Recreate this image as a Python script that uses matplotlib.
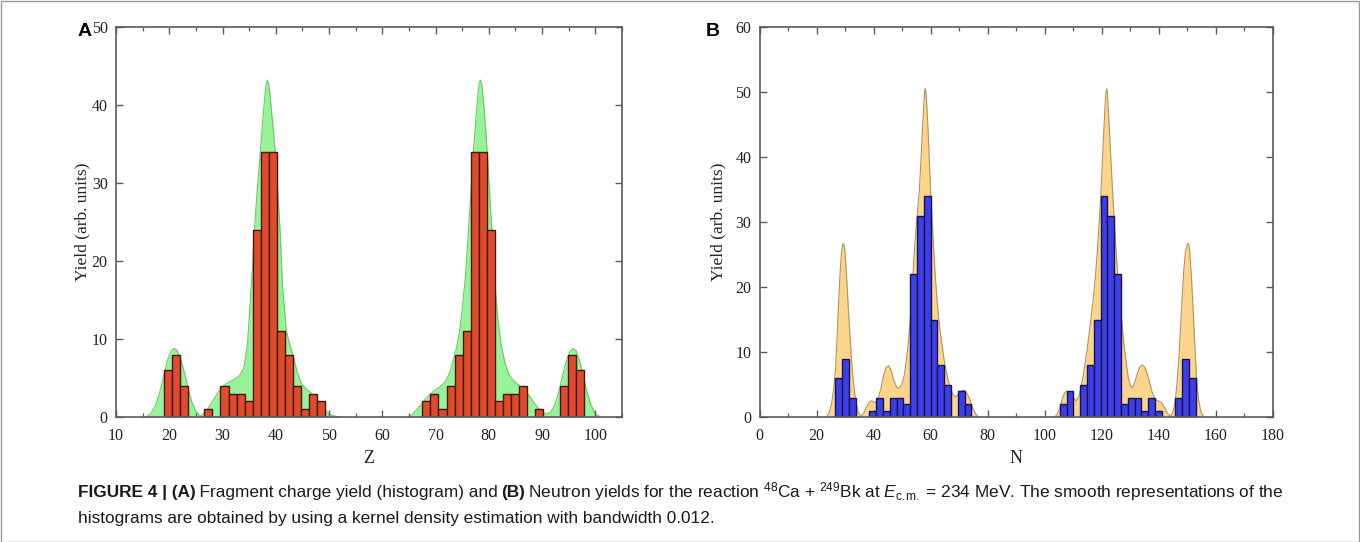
import matplotlib
matplotlib.use("Agg")
import matplotlib.pyplot as plt
from matplotlib.patches import Rectangle

# ---------------- data ----------------
# Panel A: fragment charge yield histogram
z_bin_start = 19.0
z_bin_width = 1.516
z_counts = [6, 8, 4, 0, 0, 1, 0, 4, 3, 3, 2, 24, 34, 34, 11, 8, 4, 1, 3, 2,
            0, 0, 0, 0, 0, 0, 0, 0, 0, 0, 0, 0,
            2, 3, 1, 4, 8, 11, 34, 34, 24, 2, 3, 3, 4, 0, 1, 0, 0, 4, 8, 6]

# Panel A: smooth (KDE) curve
z_kde_left_x = [15.5, 16.5, 17.5, 18.3, 19.0, 19.7, 20.4, 20.9, 21.5, 22.1, 22.8, 23.5,
                24.2, 25.0, 25.8, 26.6, 27.4, 28.3, 29.2, 30.2, 31.2, 32.2, 33.2, 34.0,
                34.7, 35.3, 35.7, 36.0, 36.5, 37.1, 37.6, 38.0, 38.2, 38.4, 38.6, 38.8,
                39.3, 39.9, 40.4, 40.8, 41.3, 42.0, 42.6, 43.2, 44.0, 44.8, 45.7, 46.6,
                47.5, 48.3, 49.0, 49.8, 50.6, 51.5, 52.3]
z_kde_left_y = [0, 0.4, 1.6, 3.4, 5.4, 7.4, 8.5, 8.8, 8.5, 7.5, 5.8, 3.8,
                2.0, 0.7, 0.1, 0.5, 1.2, 2.2, 3.2, 4.0, 4.5, 4.8, 5.3, 6.3,
                9.5, 15.8, 20.0, 24.0, 29.0, 34.0, 38.5, 41.5, 42.7, 43.2, 42.9, 42.0,
                38.5, 34.0, 28.5, 24.0, 16.5, 11.0, 9.3, 8.0, 5.8, 4.3, 3.6, 3.1,
                2.5, 1.8, 1.1, 0.5, 0.2, 0.05, 0]
z_kde_right_x = [64.8, 65.6, 66.4, 67.3, 68.2, 69.1, 70.0, 70.9, 71.8, 72.6, 73.3, 73.9,
                 74.5, 75.1, 75.6, 76.1, 76.6, 77.1, 77.6, 78.0, 78.2, 78.4, 78.6, 78.8,
                 79.2, 79.7, 80.2, 80.7, 81.2, 81.7, 82.3, 83.0, 83.8, 84.7, 85.6, 86.5,
                 87.4, 88.3, 89.2, 90.0, 90.8, 91.6, 92.4, 93.2, 93.9, 94.6, 95.2, 95.8,
                 96.4, 97.0, 97.7, 98.4, 99.2, 100.0, 100.9]
z_kde_right_y = [0, 0.3, 0.9, 1.6, 2.4, 3.0, 3.5, 3.9, 4.5, 5.6, 7.2, 8.8,
                 11.0, 14.5, 18.0, 23.0, 28.5, 34.0, 38.5, 41.8, 42.8, 43.2, 42.9, 42.0,
                 38.8, 34.0, 28.0, 22.5, 16.5, 12.5, 9.3, 7.0, 5.4, 4.6, 4.1, 3.5,
                 2.9, 2.0, 1.2, 0.6, 0.4, 0.6, 1.6, 3.4, 5.5, 7.3, 8.4, 8.8,
                 8.5, 7.3, 5.3, 3.3, 1.5, 0.4, 0]

# Panel B: neutron yield histogram
n_bin_start = 26.5
n_bin_width = 2.386
n_counts = [6, 9, 3, 0, 0, 1, 3, 1, 3, 3, 2, 22, 31, 34, 15, 8, 5, 0, 4, 2,
            0, 0, 0, 0, 0, 0, 0, 0, 0, 0, 0, 0, 0,
            2, 4, 0, 5, 8, 15, 34, 31, 22, 2, 3, 3, 1, 3, 1, 0, 0, 3, 9, 6]

# Panel B: smooth (KDE) curve
n_kde_left_x = [23.3, 24.3, 25.2, 26.0, 26.6, 27.1, 27.6, 28.1, 28.7, 29.0, 29.3, 29.6,
                29.9, 30.5, 31.1, 31.8, 32.5, 33.2, 33.9, 34.6, 35.5, 36.4, 37.3, 38.3,
                39.2, 40.0, 40.8, 41.6, 42.5, 43.4, 44.3, 45.2, 46.1, 47.0, 48.0, 48.9,
                49.8, 50.6, 51.3, 52.0, 52.7, 53.4, 54.1, 54.8, 55.4, 56.0, 56.6, 57.1,
                57.6, 57.8, 58.0, 58.2, 58.4, 58.9, 59.4, 59.9, 60.4, 61.0, 61.6, 62.3,
                63.0, 63.8, 64.6, 65.4, 66.2, 67.0, 67.8, 68.6, 69.4, 70.2, 71.0, 71.8,
                72.6, 73.4, 74.2, 75.0, 75.8, 76.8]
n_kde_left_y = [0, 0.5, 2.1, 4.5, 7.5, 12.0, 17.0, 21.5, 25.5, 26.4, 26.7, 26.4,
                25.5, 21.5, 16.5, 11.5, 7.0, 4.0, 2.0, 0.7, 0.15, 0.5, 1.4, 2.2,
                2.5, 2.3, 2.2, 3.0, 4.4, 6.3, 7.6, 7.9, 7.2, 5.7, 4.6, 4.4,
                5.0, 6.2, 8.3, 11.0, 14.5, 19.5, 24.5, 29.0, 32.0, 35.0, 40.0, 44.5,
                48.5, 50.0, 50.5, 50.2, 49.3, 45.5, 40.5, 35.0, 31.0, 26.0, 21.5, 17.3,
                14.2, 11.5, 9.0, 7.0, 5.5, 4.2, 3.4, 3.1, 3.4, 3.9, 4.1, 4.1,
                3.7, 3.0, 2.0, 1.1, 0.4, 0]
n_kde_right_x = [103.4, 104.3, 105.2, 106.0, 106.8, 107.6, 108.4, 109.2, 110.1, 111.0, 111.9, 112.7,
                 113.4, 114.1, 114.8, 115.5, 116.2, 117.0, 117.7, 118.4, 119.0, 119.6, 120.1, 120.6,
                 121.2, 121.45, 121.7, 121.9, 122.1, 122.6, 123.1, 123.7, 124.3, 124.9, 125.6, 126.3,
                 127.0, 127.7, 128.4, 129.2, 130.0, 130.7, 131.5, 132.3, 133.2, 134.1, 135.0, 135.9,
                 136.8, 137.7, 138.6, 139.5, 140.3, 141.1, 141.9, 142.7, 143.5, 144.2, 145.0, 145.7,
                 146.3, 146.9, 147.5, 148.1, 148.7, 149.3, 149.9, 150.2, 150.5, 150.8, 151.4, 152.0,
                 152.6, 153.2, 153.8, 154.5, 155.2, 156.0]
n_kde_right_y = [0, 0.4, 1.3, 2.6, 3.6, 4.0, 3.9, 3.4, 2.8, 2.5, 3.2, 4.6,
                 6.3, 8.3, 10.3, 12.8, 15.3, 18.3, 21.5, 25.5, 29.5, 34.0, 38.5, 43.5,
                 48.5, 50.0, 50.5, 50.1, 48.5, 44.5, 40.0, 35.0, 30.5, 26.0, 21.5, 18.0,
                 14.5, 11.3, 8.8, 6.2, 4.8, 4.5, 5.3, 6.5, 7.6, 8.0, 7.7, 6.6,
                 5.2, 3.7, 2.8, 2.5, 2.4, 2.1, 1.5, 0.8, 0.3, 0.15, 0.9, 2.5,
                 5.0, 8.5, 13.0, 18.0, 22.5, 25.5, 26.5, 26.7, 26.4, 25.5, 21.5, 16.5,
                 11.0, 6.0, 3.0, 1.2, 0.3, 0]

z_xticks = [10, 20, 30, 40, 50, 60, 70, 80, 90, 100]
z_yticks = [0, 10, 20, 30, 40, 50]
n_xticks = [0, 20, 40, 60, 80, 100, 120, 140, 160, 180]
n_yticks = [0, 10, 20, 30, 40, 50, 60]

# ---------------- styling ----------------
SERIF = ["Liberation Serif", "DejaVu Serif"]
SANS = ["Liberation Sans", "DejaVu Sans"]
CAP = ["Liberation Sans Narrow", "Liberation Sans", "DejaVu Sans"]
plt.rcParams["mathtext.fontset"] = "custom"
plt.rcParams["mathtext.rm"] = "Liberation Sans"
plt.rcParams["mathtext.it"] = "Liberation Sans:italic"
plt.rcParams["mathtext.bf"] = "Liberation Sans:bold"

W, H = 1360, 542
fig = plt.figure(figsize=(W / 100, H / 100), dpi=100)


def px_axes(left, top, right, bottom):
    return fig.add_axes([left / W, 1 - bottom / H, (right - left) / W, (bottom - top) / H])


def style_axes(ax, xlim, ylim, xticks, yticks, xminor, xlabel, ylab_x):
    ax.set_xlim(*xlim)
    ax.set_ylim(*ylim)
    ax.set_xticks(xticks)
    ax.set_yticks(yticks)
    ax.set_xticks(xminor, minor=True)
    for s in ax.spines.values():
        s.set_color("#5a5a5a")
        s.set_linewidth(1.2)
    ax.tick_params(axis="both", which="major", direction="in", top=True, right=True,
                   length=5, width=1.0, color="#5a5a5a", labelsize=11.5, labelcolor="#222222")
    ax.tick_params(axis="x", which="minor", direction="in", top=True, bottom=True,
                   length=3, width=0.9, color="#5a5a5a")
    ax.tick_params(axis="x", which="major", pad=8)
    ax.tick_params(axis="y", which="major", pad=6)
    for lab in ax.get_xticklabels() + ax.get_yticklabels():
        lab.set_family(SERIF)
    ax.set_xlabel(xlabel, family=SERIF, fontsize=13, color="#222222", labelpad=4)
    ax.set_ylabel("Yield (arb. units)", family=SERIF, fontsize=12.5, color="#222222")
    ax.yaxis.set_label_coords(ylab_x, 0.5)


# ---- Panel A ----
axA = px_axes(116, 27, 622, 417)
for kx, ky in ((z_kde_left_x, z_kde_left_y), (z_kde_right_x, z_kde_right_y)):
    axA.fill_between(kx, 0, ky, color="#98F298", lw=0, zorder=1)
    axA.plot(kx, ky, color="#6CC76C", lw=0.8, zorder=1.5)
z_edges = [z_bin_start + i * z_bin_width for i in range(len(z_counts))]
z_sel = [(x, c) for x, c in zip(z_edges, z_counts) if c > 0]
axA.bar([x for x, _ in z_sel], [c for _, c in z_sel], width=z_bin_width, align="edge",
        color="#E24A2C", edgecolor="#3A1A12", linewidth=1.0, zorder=2)
style_axes(axA, (10, 105), (0, 50), z_xticks, z_yticks, list(range(15, 106, 10)), "Z",
           (90 - 116) / 506)

# ---- Panel B ----
axB = px_axes(759.7, 27, 1273, 417)
for kx, ky in ((n_kde_left_x, n_kde_left_y), (n_kde_right_x, n_kde_right_y)):
    axB.fill_between(kx, 0, ky, color="#FDD48C", lw=0, zorder=1)
    axB.plot(kx, ky, color="#B09560", lw=0.8, zorder=1.5)
n_edges = [n_bin_start + i * n_bin_width for i in range(len(n_counts))]
n_sel = [(x, c) for x, c in zip(n_edges, n_counts) if c > 0]
axB.bar([x for x, _ in n_sel], [c for _, c in n_sel], width=n_bin_width, align="edge",
        color="#3D3DEA", edgecolor="#15154A", linewidth=1.0, zorder=2)
style_axes(axB, (0, 180), (0, 60), n_xticks, n_yticks, list(range(10, 180, 20)), "N",
           (726 - 759.7) / 513.3)

# panel letters
fig.text(78 / W, 1 - 32 / H, "A", family=SANS, fontweight="bold", fontsize=14, va="center", ha="left")
fig.text(706 / W, 1 - 32 / H, "B", family=SANS, fontweight="bold", fontsize=14, va="center", ha="left")

# frame around the figure
fig.add_artist(Rectangle((0.5 / W, 0.5 / H), 1 - 1.5 / W, 1 - 1.5 / H, transform=fig.transFigure,
                         fill=False, edgecolor="#9a9a9a", linewidth=1.0))

# caption
renderer = fig.canvas.get_renderer()


def draw_line(x0_px, base_px, segments, fs):
    x = x0_px / W
    for txt, weight in segments:
        t = fig.text(x, 1 - base_px / H, txt, family=CAP, fontweight=weight, fontsize=fs,
                     va="baseline", ha="left", color="#1a1a1a")
        bb = t.get_window_extent(renderer)
        x += bb.width / W


cap_fs = 12.4
draw_line(78, 497, [
    ("FIGURE 4 | (A)", "bold"),
    ("\u2009Fragment charge yield (histogram) and\u2009", "normal"),
    ("(B)", "bold"),
    ("\u2009Neutron yields for the reaction $^{48}$Ca + $^{249}$Bk at $E_{\\mathrm{c.\\!m.}}$ = 234 MeV. "
     "The smooth representations of the", "normal"),
], cap_fs)
draw_line(78, 523, [
    ("histograms are obtained by using a kernel density estimation with bandwidth 0.012.", "normal"),
], cap_fs)

fig.savefig("out.png", dpi=100)
